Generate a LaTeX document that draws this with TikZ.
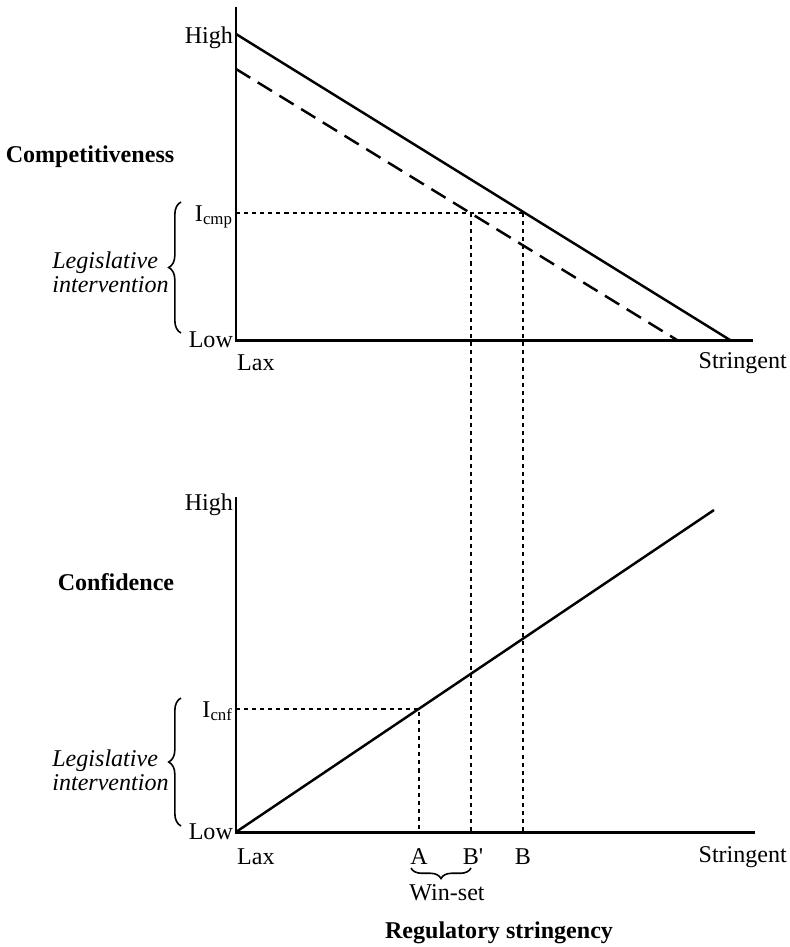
\documentclass[tikz,border=0pt]{standalone}
\usepackage{fontspec}
\setmainfont{Liberation Serif}
\usetikzlibrary{decorations.pathreplacing}

\tikzset{
  axis/.style={line width=1.7pt},
  curve/.style={line width=1.4pt},
  longdash/.style={line width=1.4pt, dash pattern=on 9.5pt off 5pt},
  guide/.style={line width=1.3pt, dash pattern=on 2.3pt off 2.3pt},
  lab/.style={inner sep=1pt, font=\fontsize{13.7}{15}\selectfont},
  title/.style={inner sep=0pt, font=\fontsize{13.7}{15}\selectfont\bfseries},
  legis/.style={inner sep=0pt, align=left, font=\fontsize{13.7}{13.5}\selectfont\itshape},
  curly/.style={decorate, decoration={brace, amplitude=7pt}, line width=0.9pt}
}

\begin{document}
\begin{tikzpicture}[x=0.02cm, y=-0.02cm]
  \useasboundingbox (0,0) rectangle (790,947);

  % upper panel: competitiveness
  \coordinate (o1) at (236,340);
  \coordinate (top1) at (236,7);
  \coordinate (end1) at (753,340);
  \coordinate (hi1) at (236,34);
  \coordinate (zero1) at (730,340);
  \coordinate (dhi1) at (236,69);
  \coordinate (dzero1) at (677,340);
  \coordinate (icmp) at (236,213);
  \coordinate (pB) at (523,213);
  \coordinate (pBp) at (471,213);
  \draw[axis] (top1) -- (o1) -- (end1);
  \draw[curve] (hi1) -- (zero1);
  \draw[longdash] (dhi1) -- (dzero1);

  \node[lab, anchor=east] (high1) at (235,38) {High};
  \node[lab, anchor=east] (low1) at (235,340) {Low};
  \node[lab, anchor=base east] (lcmp) at (235,221) {I\textsubscript{cmp}};
  \node[lab, anchor=west] (lax1) at (235,363) {Lax};
  \node[lab, anchor=east] (str1) at (789,363) {Stringent};
  \node[title] (comp) at (90,157) {Competitiveness};
  \node[legis, anchor=east] (leg1) at (169,272) {Legislative\\intervention};
  \draw[curly] (181,333) -- (181,202);

  % lower panel: confidence
  \coordinate (o2) at (236,832);
  \coordinate (top2) at (236,497);
  \coordinate (end2) at (755,832);
  \coordinate (hi2) at (714,510);
  \coordinate (icnf) at (236,709);
  \coordinate (pA) at (419,709);
  \coordinate (bA) at (419,832);
  \coordinate (bBp) at (471,832);
  \coordinate (bB) at (523,832);
  \draw[axis] (top2) -- (o2) -- (end2);
  \draw[curve] (o2) -- (hi2);

  \node[lab, anchor=east] (high2) at (235,505) {High};
  \node[lab, anchor=east] (low2) at (235,832) {Low};
  \node[lab, anchor=base east] (lcnf) at (235,717) {I\textsubscript{cnf}};
  \node[lab, anchor=west] (lax2) at (235,857) {Lax};
  \node[lab] (la) at (419,857) {A};
  \node[lab] (lbp) at (473,857) {\addfontfeatures{Ligatures=TeXOff}B'};
  \node[lab] (lb) at (523,857) {B};
  \node[lab, anchor=east] (str2) at (789,857) {Stringent};
  \node[title] (conf) at (116,582) {Confidence};
  \node[legis, anchor=east] (leg2) at (169,770) {Legislative\\intervention};
  \draw[curly] (181,826) -- (181,698);

  % guides and win-set
  \draw[guide] (icmp) -- (pB);
  \draw[guide] (pBp) -- (bBp);
  \draw[guide] (pB) -- (bB);
  \draw[guide] (icnf) -- (pA) -- (bA);
  \draw[curly, decoration={amplitude=6pt}] (471,868) -- (411,868);
  \node[lab] (win) at (447,893) {Win-set};
  \node[title] (reg) at (499,933) {Regulatory stringency};
\end{tikzpicture}
\end{document}
